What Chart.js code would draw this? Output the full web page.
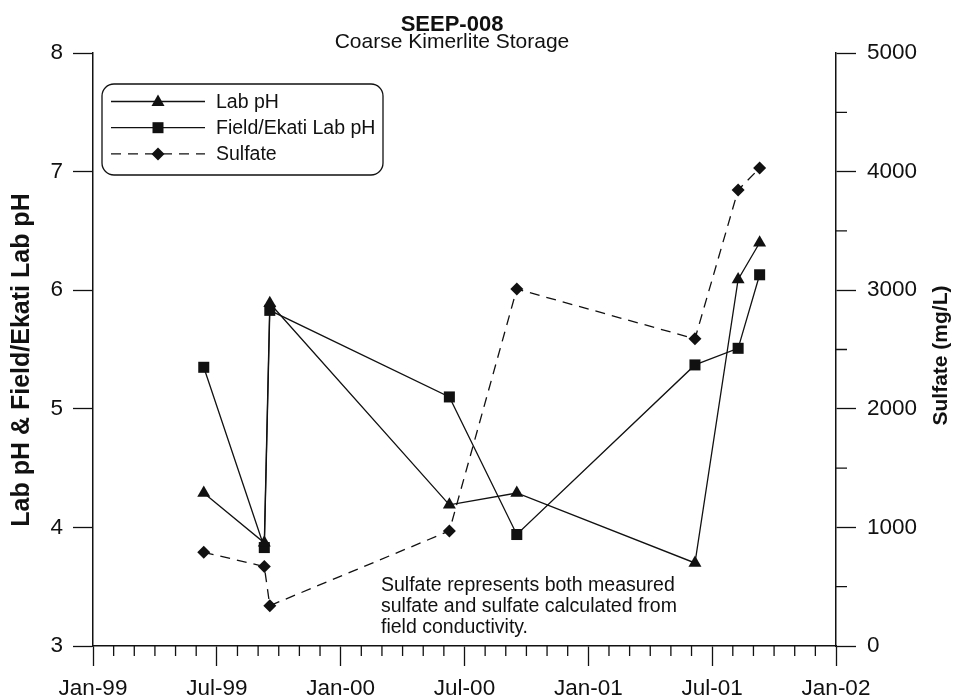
<!DOCTYPE html>
<html>
<head>
<meta charset="utf-8">
<script src="https://cdn.jsdelivr.net/npm/chart.js@4.4.1/dist/chart.umd.min.js"></script>
<style>
  html, body { margin: 0; padding: 0; background: #fff; }
  #wrap { width: 954px; height: 698px; }
</style>
</head>
<body>
<div id="wrap"><canvas id="seep-chart"></canvas></div>
<script>
// sample dates, shared by all three series
const sampleDates = ['1999-06-12', '1999-09-10', '1999-09-18', '2000-06-09', '2000-09-17', '2001-06-06', '2001-08-09', '2001-09-10']
const labPh = [4.29, 3.87, 5.89, 4.19, 4.29, 3.70, 6.09, 6.40]
const fieldPh = [5.35, 3.83, 5.83, 5.10, 3.94, 5.37, 5.51, 6.13]
const sulfate = [790, 670, 340, 970, 3010, 2590, 3845, 4030]
const xTickLabels = ['Jan-99', 'Jul-99', 'Jan-00', 'Jul-00', 'Jan-01', 'Jul-01', 'Jan-02']
const noteLines = ['Sulfate represents both measured', 'sulfate and sulfate calculated from', 'field conductivity.']

const ink = '#111'
const family = "'Liberation Sans', Arial, Helvetica, sans-serif"
Chart.defaults.font.family = family
Chart.defaults.color = ink

// months since Jan-99, with the day as a fraction of the month
function toMonths (iso) {
  const [y, m, d] = iso.split('-').map(Number)
  const days = new Date(y, m, 0).getDate()
  return (y - 1999) * 12 + (m - 1) + (d - 1) / days
}

function points (values) {
  return values.map((v, i) => ({ x: toMonths(sampleDates[i]), y: v }))
}

function drawMarker (ctx, style, x, y) {
  ctx.beginPath()
  if (style === 'triangle') {
    ctx.moveTo(x, y - 7)
    ctx.lineTo(x + 6.5, y + 4.5)
    ctx.lineTo(x - 6.5, y + 4.5)
  } else if (style === 'rect') {
    ctx.rect(x - 5.5, y - 5.5, 11, 11)
  } else {
    ctx.moveTo(x, y - 6.5)
    ctx.lineTo(x + 6.5, y)
    ctx.lineTo(x, y + 6.5)
    ctx.lineTo(x - 6.5, y)
  }
  ctx.closePath()
  ctx.fill()
}

const overlay = {
  id: 'overlay',
  afterDraw (chart) {
    const { ctx, chartArea: area, scales } = chart
    ctx.save()

    // minor ticks
    ctx.strokeStyle = ink
    ctx.lineWidth = 1.3
    ctx.beginPath()
    for (let m = 1; m < 36; m++) {
      if (m % 6 === 0) continue
      const px = scales.x.getPixelForValue(m)
      ctx.moveTo(px, area.bottom)
      ctx.lineTo(px, area.bottom + 10)
    }
    for (let v = 500; v < 5000; v += 1000) {
      const py = scales.y2.getPixelForValue(v)
      ctx.moveTo(area.right, py)
      ctx.lineTo(area.right + 11, py)
    }
    ctx.stroke()

    // titles
    ctx.fillStyle = ink
    ctx.textAlign = 'center'
    ctx.textBaseline = 'alphabetic'
    ctx.font = 'bold 22px ' + family
    ctx.fillText('SEEP-008', 452, 31)
    ctx.font = '21px ' + family
    ctx.fillText('Coarse Kimerlite Storage', 452, 48)

    // axis titles, both read bottom to top
    ctx.textBaseline = 'middle'
    ctx.save()
    ctx.translate(22, 360)
    ctx.rotate(-Math.PI / 2)
    ctx.font = 'bold 25px ' + family
    ctx.fillText('Lab pH & Field/Ekati Lab pH', 0, 0)
    ctx.restore()
    ctx.save()
    ctx.translate(941, (area.top + area.bottom) / 2 + 6)
    ctx.rotate(-Math.PI / 2)
    ctx.font = 'bold 21px ' + family
    ctx.fillText('Sulfate (mg/L)', 0, 0)
    ctx.restore()

    // legend box
    const lx = area.left + 9
    const ly = area.top + 31
    ctx.lineWidth = 1.3
    ctx.beginPath()
    ctx.roundRect(lx, ly, 281, 91, 12)
    ctx.stroke()
    ctx.textAlign = 'left'
    ctx.font = '19.5px ' + family
    chart.data.datasets.forEach((ds, i) => {
      const ry = ly + 17.5 + i * 26.2
      ctx.beginPath()
      ctx.setLineDash(ds.borderDash || [])
      ctx.lineWidth = ds.borderWidth
      ctx.moveTo(lx + 9, ry)
      ctx.lineTo(lx + 103, ry)
      ctx.stroke()
      ctx.setLineDash([])
      drawMarker(ctx, ds.pointStyle, lx + 56, ry)
      ctx.fillText(ds.label, lx + 114, ry + 1)
    })

    // note
    ctx.font = '19.5px ' + family
    ctx.textBaseline = 'alphabetic'
    noteLines.forEach((line, i) => {
      ctx.fillText(line, 381, 591 + i * 21)
    })
    ctx.restore()
  }
}

const monthTicks = []
for (let m = 0; m <= 36; m++) monthTicks.push(m)

// eslint-disable-next-line no-unused-vars
const chart = new Chart(document.querySelector('#seep-chart'), {
  type: 'line',
  data: {
    datasets: [{
      label: 'Lab pH',
      data: points(labPh),
      yAxisID: 'y',
      borderColor: ink,
      backgroundColor: ink,
      borderWidth: 1.3,
      pointStyle: 'triangle',
      pointRadius: 7.5,
      pointBorderWidth: 0
    }, {
      label: 'Field/Ekati Lab pH',
      data: points(fieldPh),
      yAxisID: 'y',
      borderColor: ink,
      backgroundColor: ink,
      borderWidth: 1.3,
      pointStyle: 'rect',
      pointRadius: 7.8,
      pointBorderWidth: 0
    }, {
      label: 'Sulfate',
      data: points(sulfate),
      yAxisID: 'y2',
      borderColor: ink,
      backgroundColor: ink,
      borderWidth: 1.3,
      borderDash: [10, 7],
      pointStyle: 'rectRot',
      pointRadius: 6.5,
      pointBorderWidth: 0
    }]
  },
  options: {
    responsive: true,
    maintainAspectRatio: false,
    animation: false,
    layout: { padding: { top: 53 } },
    plugins: {
      legend: { display: false },
      tooltip: { enabled: false }
    },
    scales: {
      x: {
        type: 'linear',
        min: 0,
        max: 36,
        afterBuildTicks: scale => { scale.ticks = monthTicks.map(v => ({ value: v })) },
        afterFit: scale => { scale.height = 52 },
        grid: {
          drawOnChartArea: false,
          tickLength: 20,
          tickWidth: 1.3,
          tickColor: ctx => (ctx.tick && ctx.tick.value % 6 === 0 ? ink : 'rgba(0,0,0,0)')
        },
        border: { color: ink, width: 1.5 },
        ticks: {
          autoSkip: false,
          maxRotation: 0,
          padding: 9,
          font: { size: 22.5 },
          callback: v => (v % 6 === 0 ? xTickLabels[v / 6] : '')
        }
      },
      y: {
        position: 'left',
        min: 3,
        max: 8,
        afterFit: scale => { scale.width = 93 },
        grid: { drawOnChartArea: false, tickLength: 20, tickWidth: 1.3, tickColor: ink },
        border: { color: ink, width: 1.5 },
        ticks: { stepSize: 1, padding: 10, font: { size: 22.5 } }
      },
      y2: {
        position: 'right',
        min: 0,
        max: 5000,
        afterFit: scale => { scale.width = 118 },
        grid: {
          drawOnChartArea: false,
          tickLength: 20,
          tickWidth: 1.3,
          tickColor: ctx => (ctx.tick && ctx.tick.value % 1000 === 0 ? ink : 'rgba(0,0,0,0)')
        },
        border: { color: ink, width: 1.5 },
        ticks: {
          stepSize: 500,
          padding: 11,
          font: { size: 22.5 },
          callback: v => (v % 1000 === 0 ? v : '')
        }
      }
    }
  },
  plugins: [overlay]
})
</script>
</body>
</html>
